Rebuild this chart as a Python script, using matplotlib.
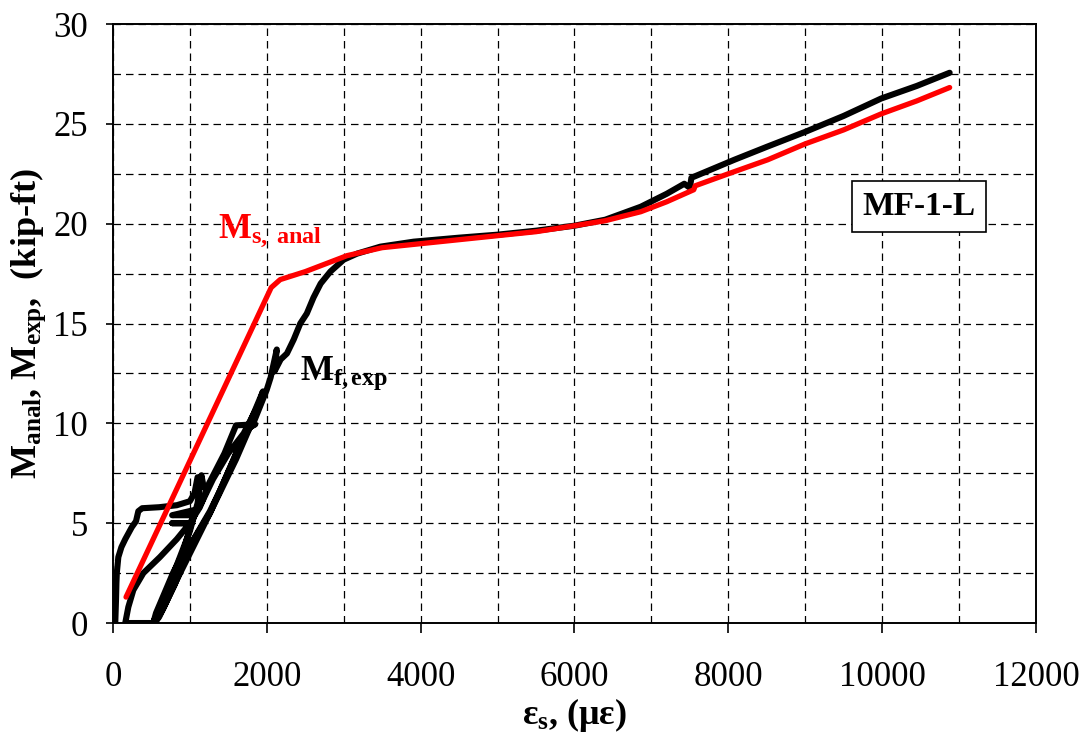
import numpy as np
import matplotlib.pyplot as plt
from matplotlib.ticker import MultipleLocator

plt.rcParams['font.family'] = ['Liberation Serif', 'DejaVu Serif']
plt.rcParams['mathtext.fontset'] = 'custom'
plt.rcParams['mathtext.rm'] = 'Liberation Serif'
plt.rcParams['mathtext.bf'] = 'Liberation Serif:bold'
plt.rcParams['mathtext.it'] = 'Liberation Serif:italic'

# analytical moment (red)
strain_anal = [170, 2057, 2174, 2500, 3043, 3500, 4000, 4500, 5000, 5500, 6000, 6400,
               6862, 7200, 7550, 7570, 8000, 8511, 9000, 9500, 9987, 10450, 10877]
moment_anal = [1.3, 16.8, 17.2, 17.6, 18.4, 18.8, 19.0, 19.2, 19.4, 19.6, 19.9, 20.15,
               20.6, 21.1, 21.7, 21.9, 22.5, 23.2, 24.0, 24.7, 25.5, 26.15, 26.82]

strain_exp = [30, 35, 40, 45, 50, 70, 110, 160, 245, 300, 330, 380, 600, 830, 1000, 1060,
              1100, 1180, 1150,
              1100, 1000, 800, 620, 520, 160,
              200, 265, 395, 610, 830, 1000, 1130, 1250, 1450, 1600, 1850, 1780,
              1600, 1260, 1040, 830, 650, 524,
              560, 780, 900, 1020, 770, 1020, 1060, 770, 1100, 1150, 1300, 1500, 1700, 1900, 1950,
              1700, 1260, 828, 650, 540,
              600, 800, 1044, 1261, 1400, 1694, 1824, 1998, 2050, 2130, 2100, 2180, 2262, 2350,
              2435, 2520, 2607, 2700, 2826, 3000, 3173, 3477, 3910, 4500, 5000, 5500, 6000,
              6400, 6862, 7200, 7427, 7500, 7520, 8077, 8500, 9000, 9500, 9987, 10450, 10877]
moment_exp = [0.0, 0.6, 1.2, 2.0, 2.5, 3.3, 3.8, 4.2, 4.8, 5.1, 5.6, 5.75, 5.8, 5.9, 6.1, 6.5,
              7.3, 6.8, 7.4,
              6.0, 4.6, 2.6, 0.8, 0.0, 0.0,
              0.8, 1.65, 2.5, 3.3, 4.2, 5.0, 5.8, 7.0, 8.5, 9.9, 9.95, 9.8,
              8.2, 5.5, 4.1, 2.2, 1.0, 0.0,
              0.5, 2.5, 3.4, 5.0, 5.0, 5.0, 5.4, 5.4, 5.7, 6.0, 7.2, 8.5, 9.5, 11.0, 11.6,
              9.3, 5.5, 2.15, 0.7, 0.0,
              0.3, 1.9, 4.16, 5.6, 6.7, 9.33, 10.0, 11.67, 12.3, 13.7, 12.6, 13.2, 13.5, 14.2,
              15.0, 15.5, 16.3, 17.0, 17.6, 18.2, 18.5, 18.85, 19.1, 19.3, 19.45, 19.65, 19.9,
              20.2, 20.85, 21.5, 22.0, 21.8, 22.3, 23.2, 23.85, 24.6, 25.4, 26.27, 26.9, 27.56]

fig = plt.figure(figsize=(10.86, 7.51), dpi=100)
ax = fig.add_axes([0.104, 0.1704, 0.850, 0.7976])

ax.plot(strain_exp, moment_exp, color='black', lw=4.4, solid_joinstyle='round',
        solid_capstyle='round', zorder=3)
ax.plot(strain_anal, moment_anal, color='red', lw=3.8, solid_capstyle='round', zorder=4)

ax.set_xlim(0, 12000)
ax.set_ylim(0, 30)
ax.xaxis.set_major_locator(MultipleLocator(2000))
ax.xaxis.set_minor_locator(MultipleLocator(1000))
ax.yaxis.set_major_locator(MultipleLocator(5))
ax.yaxis.set_minor_locator(MultipleLocator(2.5))
ax.grid(True, which='both', color='black', ls=(0, (6, 4)), lw=0.9)
ax.set_axisbelow(True)
ax.tick_params(which='major', direction='out', width=1.2, labelsize=25)
ax.tick_params(axis='x', which='major', length=7, pad=20)
ax.tick_params(axis='y', which='major', length=5, pad=13)
ax.tick_params(which='minor', length=0)
for s in ax.spines.values():
    s.set_linewidth(1.4)

ax.set_xlabel(r'$\mathbf{\epsilon_s}$, $\mathbf{(\mu\epsilon)}$', fontsize=26, fontweight='bold', labelpad=2)
ax.set_ylabel(r'$\mathbf{M_{anal}}$, $\mathbf{M_{exp}}$,  (kip-ft)', fontsize=26,
              fontweight='bold', labelpad=4)

ax.text(1365, 19.28, r'$\mathbf{M_{s,\ anal}}$', color='red', fontsize=25)
ax.text(2431, 12.17, r'$\mathbf{M_{f,exp}}$', color='black', fontsize=25)
ax.text(10478, 20.88, 'MF-1-L', fontsize=24, fontweight='bold', ha='center', va='center',
        bbox=dict(boxstyle='square,pad=0.3', fc='white', ec='black', lw=1.2), zorder=5)

fig.savefig('out.png', dpi=100)
